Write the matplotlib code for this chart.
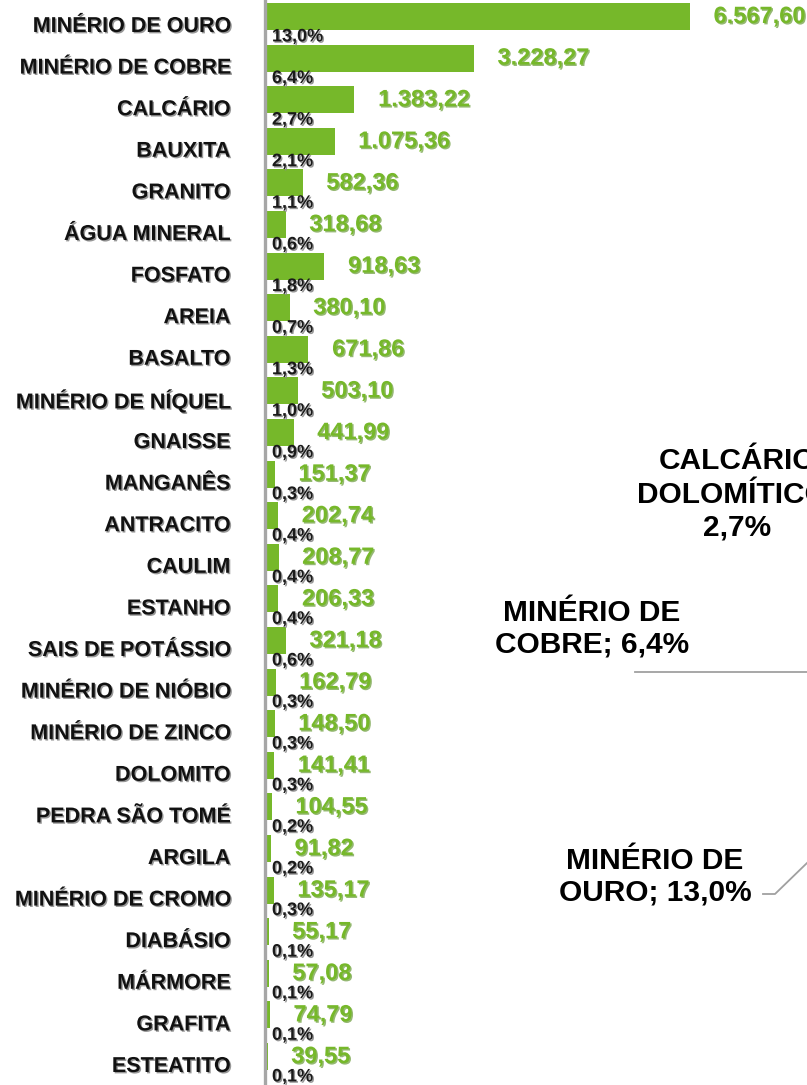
import numpy as np
import matplotlib.pyplot as plt
import matplotlib.patheffects as pe
from matplotlib.transforms import blended_transform_factory

# data
minerals = ['MINÉRIO DE OURO', 'MINÉRIO DE COBRE', 'CALCÁRIO', 'BAUXITA', 'GRANITO',
            'ÁGUA MINERAL', 'FOSFATO', 'AREIA', 'BASALTO', 'MINÉRIO DE NÍQUEL',
            'GNAISSE', 'MANGANÊS', 'ANTRACITO', 'CAULIM', 'ESTANHO',
            'SAIS DE POTÁSSIO', 'MINÉRIO DE NIÓBIO', 'MINÉRIO DE ZINCO', 'DOLOMITO',
            'PEDRA SÃO TOMÉ', 'ARGILA', 'MINÉRIO DE CROMO', 'DIABÁSIO', 'MÁRMORE',
            'GRAFITA', 'ESTEATITO']
values = [6567.60, 3228.27, 1383.22, 1075.36, 582.36, 318.68, 918.63, 380.10, 671.86,
          503.10, 441.99, 151.37, 202.74, 208.77, 206.33, 321.18, 162.79, 148.50,
          141.41, 104.55, 91.82, 135.17, 55.17, 57.08, 74.79, 39.55]
shares = ['13,0%', '6,4%', '2,7%', '2,1%', '1,1%', '0,6%', '1,8%', '0,7%', '1,3%',
          '1,0%', '0,9%', '0,3%', '0,4%', '0,4%', '0,4%', '0,6%', '0,3%', '0,3%',
          '0,3%', '0,2%', '0,2%', '0,3%', '0,1%', '0,1%', '0,1%', '0,1%']
pie_labels = ['CALCÁRIO\nDOLOMÍTICO;\n2,7%', 'MINÉRIO DE\nCOBRE; 6,4%',
              'MINÉRIO DE\nOURO; 13,0%']

GREEN = '#76b82a'
FONT = ['Liberation Sans', 'DejaVu Sans']


def br(v):
    s = f'{v:,.2f}'
    return s.replace(',', 'X').replace('.', ',').replace('X', '.')


W, H = 807, 1085
fig = plt.figure(figsize=(W / 100, H / 100), dpi=100)
x0 = 265
ax = fig.add_axes([x0 / W, 0, 1 - x0 / W, 1])
px_per_unit = 0.0647
pitch, first = 41.6, 16.5
ax.set_xlim(0, (W - x0) / px_per_unit)
ax.set_ylim((H - first) / pitch, -first / pitch)

y = np.arange(len(minerals))
ax.barh(y, values, height=0.65, color=GREEN, zorder=2)

for s in ['top', 'right', 'bottom']:
    ax.spines[s].set_visible(False)
ax.spines['left'].set_color('#a6a6a6')
ax.spines['left'].set_linewidth(2.4)
ax.set_xticks([])
ax.set_yticks([])

shadow_k = [pe.SimplePatchShadow(offset=(1, -1), shadow_rgbFace='#8c8c8c', alpha=0.9), pe.Normal()]
shadow_g = [pe.SimplePatchShadow(offset=(1, -1), shadow_rgbFace='#4f8a16', alpha=0.6), pe.Normal()]

lab_tr = blended_transform_factory(fig.transFigure, ax.transData)
for i, (name, v, p) in enumerate(zip(minerals, values, shares)):
    ax.text(230 / W, i + 0.24, name, transform=lab_tr, ha='right', va='center',
            fontsize=15.5, fontweight='bold', family=FONT, color='#111111',
            path_effects=shadow_k)
    ax.annotate(br(v), (v, i), xytext=(17, 0), textcoords='offset points',
                ha='left', va='center', fontsize=17, fontweight='bold',
                family=FONT, color=GREEN, path_effects=shadow_g)
    ax.annotate(p, (0, i + 0.49), xytext=(5, 0), textcoords='offset points',
                ha='left', va='center', fontsize=13, fontweight='bold',
                family=FONT, color='#1a1a1a', path_effects=shadow_k)

# pie-chart labels on the right (the pie itself lies outside the crop)
pos = [(737, 494), (592, 629), (655, 877)]
for txt, (px, py) in zip(pie_labels, pos):
    fig.text(px / W, 1 - py / H, txt, ha='center', va='center', fontsize=21.5,
             fontweight='bold', family=FONT, color='#000000', linespacing=1.15)

fig.add_artist(plt.Line2D([635 / W, 1.0], [1 - 672 / H, 1 - 672 / H],
                          transform=fig.transFigure, color='#a0a0a0', lw=1.3))
fig.add_artist(plt.Line2D([763 / W, 775 / W, 1.0],
                          [1 - 894 / H, 1 - 894 / H, 1 - 863 / H],
                          transform=fig.transFigure, color='#a0a0a0', lw=1.3))

fig.savefig('out.png', dpi=100, facecolor='white')
